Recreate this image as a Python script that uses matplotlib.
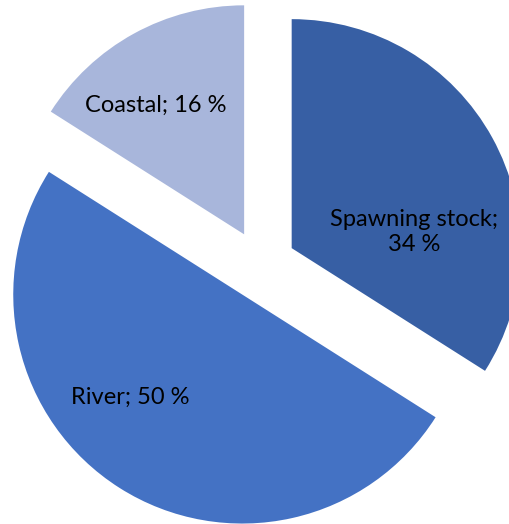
import matplotlib.pyplot as plt

# data
categories = ["Spawning stock", "River", "Coastal"]
shares = [34, 50, 16]
colors = ["#375FA4", "#4472C4", "#A8B6DB"]

# label texts and their places (pixel coords, y upwards)
label_text = ["Spawning stock;\n34 %", "River; 50 %", "Coastal; 16 %"]
label_pos = [(414, 292), (130, 127), (156, 419)]

fig = plt.figure(figsize=(5.10, 5.24), dpi=100)
ax = fig.add_axes([0, 0, 1, 1])

# explode is an offset in data units here (pixels)
ax.pie(shares, colors=colors, startangle=90, counterclock=False,
       center=(261, 259), radius=229, explode=[35] * 3,
       wedgeprops=dict(linewidth=0))

for txt, (x, y) in zip(label_text, label_pos):
    ax.text(x, y, txt, ha="center", va="center", fontsize=17,
            family="Lato", color="black", linespacing=1.25)

ax.set_xlim(0, 510)
ax.set_ylim(0, 524)
ax.set_aspect("equal")
ax.axis("off")

fig.savefig("out.png", dpi=100)
